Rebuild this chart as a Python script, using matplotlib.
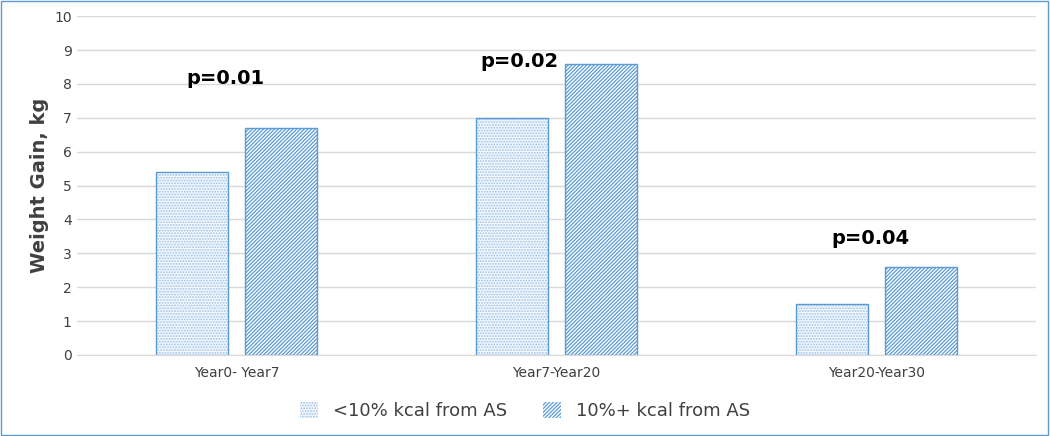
import matplotlib
matplotlib.use("Agg")
import matplotlib.pyplot as plt
import numpy as np

categories = ["Year0- Year7", "Year7-Year20", "Year20-Year30"]
low = [5.4, 7.0, 1.5]
high = [6.7, 8.6, 2.6]
pvals = ["p=0.01", "p=0.02", "p=0.04"]
p_y = [8.17, 8.67, 3.45]
p_x = [-0.035, -0.115, -0.02]
series_names = ["<10% kcal from AS", "10%+ kcal from AS"]

plt.rcParams['hatch.linewidth'] = 0.9
fig = plt.figure(figsize=(10.5, 4.36), dpi=100)
ax = fig.add_axes([0.073, 0.186, 0.914, 0.777])
x = np.arange(len(categories))
w = 0.225
b1 = ax.bar(x - 0.14, low, w, facecolor="#f4f8fd", edgecolor="#9dc3e6", hatch="......", linewidth=0, label=series_names[0])
ax.bar(x - 0.14, low, w, facecolor="none", edgecolor="#5b9bd5", linewidth=1.0)
b2 = ax.bar(x + 0.14, high, w, facecolor="white", edgecolor="#5b9bd5", hatch="/////////", linewidth=0, label=series_names[1])
ax.bar(x + 0.14, high, w, facecolor="none", edgecolor="#5b9bd5", linewidth=1.0)
for i in range(3):
    ax.text(x[i] + p_x[i], p_y[i], pvals[i], ha="center", va="center", fontsize=14, fontweight="bold")
ax.set_xlim(-0.5, 2.5)
ax.set_ylim(0, 10)
ax.set_yticks(range(11))
ax.set_xticks(x)
ax.set_xticklabels(categories, fontsize=10, color="#404040")
ax.tick_params(axis="y", labelsize=10, colors="#404040", length=0)
ax.tick_params(axis="x", length=0, pad=8)
ax.grid(axis="y", color="#d9d9d9", linewidth=1)
ax.set_axisbelow(True)
for s in ["top", "right", "left"]:
    ax.spines[s].set_visible(False)
ax.spines["bottom"].set_color("#d9d9d9")
ax.set_ylabel("Weight Gain, kg", fontsize=14, fontweight="bold", color="#404040")
fig.legend(handles=[b1, b2], loc="center", bbox_to_anchor=(0.5, 0.057), ncol=2, frameon=False,
           fontsize=13, labelcolor="#404040", handlelength=1.0, handleheight=1.0, columnspacing=2)
fig.patches.append(plt.Rectangle((0.001, 0.002), 0.997, 0.995, transform=fig.transFigure,
                                 fill=False, edgecolor="#5b9bd5", linewidth=1))
fig.savefig("out.png", dpi=100)
